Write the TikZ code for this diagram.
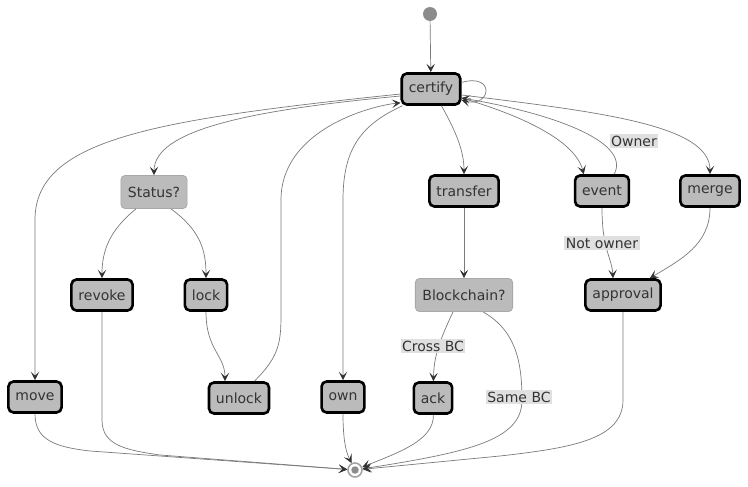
\documentclass[tikz,border=0pt]{standalone}
\usepackage{fontspec}
\setmainfont{DejaVu Sans}
\usetikzlibrary{arrows.meta,positioning}
\definecolor{boxgray}{HTML}{BBBBBB}
\definecolor{choiceline}{HTML}{A8A8A8}
\definecolor{linegray}{HTML}{7A7A7A}
\definecolor{tipgray}{HTML}{333333}
\definecolor{inkgray}{HTML}{333333}
\definecolor{condgray}{HTML}{E0E0E0}
\definecolor{dotgray}{HTML}{8C8C8C}
\begin{document}
\begin{tikzpicture}
  [x=1pt, y=-1pt,
    >={Stealth[length=8.5pt,width=8.5pt,inset=4pt,color=tipgray]},
    font=\fontsize{14}{16}\selectfont, text=inkgray,
    state/.style={
      rectangle, rounded corners=5pt, draw=black, line width=2.6pt,
      fill=boxgray, minimum height=31pt, inner xsep=7pt
    },
    choice/.style={
      rectangle, rounded corners=4pt, draw=choiceline, line width=0.8pt,
      fill=boxgray, minimum height=33pt, inner xsep=7pt
    },
    trans/.style={->, draw=linegray, line width=0.7pt},
    cond/.style={fill=condgray, inner sep=1.5pt},
  ]
  \useasboundingbox (0,0) rectangle (748,487);

  \node[circle, fill=dotgray, minimum size=14pt, inner sep=0pt] (start) at (430,14) {};
  \node[state] (certify) at (431,89) {certify};

  \node[choice] (status) at (154,192) {Status?};
  \node[state] (transfer) at (464,191) {transfer};
  \node[state] (event) at (602,191) {event};
  \node[state] (merge) at (710,191) {merge};

  \node[state] (revoke) at (102,295) {revoke};
  \node[state] (lock) at (206,295) {lock};
  \node[choice] (blockchain) at (464,295) {Blockchain?};
  \node[state] (approval) at (623,295) {approval};

  \node[state] (move) at (35,397) {move};
  \node[state] (unlock) at (239,398) {unlock};
  \node[state] (own) at (343,397) {own};
  \node[state] (ack) at (433,398) {ack};

  \node[circle, draw=dotgray!80, line width=1.6pt, fill=white, minimum size=14pt, inner sep=0pt] (stop) at (355,470) {};
  \node[circle, fill=dotgray, minimum size=7.5pt, inner sep=0pt] (stopcore) at (stop) {};

  % Into and around certify
  \draw[trans] (start) -- (certify);
  \draw[trans] (certify.12) .. controls +(34,-10) and +(30,8) .. (certify.-20);

  % Left branches
  \draw[trans] ([yshift=-5pt]certify.west) .. controls (150,120) and (35,140) .. (35,220) -- (move);
  \draw[trans] ([yshift=-7pt]certify.west) .. controls (250,110) and (154,130) .. (status);
  \draw[trans] ([xshift=-18pt]status.south) .. controls (110,230) and (102,250) .. (revoke);
  \draw[trans] ([xshift=17pt]status.south) .. controls (200,230) and (206,250) .. (lock);
  \draw[trans] (lock) .. controls (206,350) and (225,355) .. ([xshift=-14pt]unlock.north);
  \draw[trans] ([xshift=-16pt]unlock.north east) .. controls (281,355) and (281,340) .. (281,310)
    -- (281,200) .. controls (281,130) and (370,106) .. ([yshift=3pt]certify.south west);
  \draw[trans] ([xshift=2pt]certify.south west) .. controls (360,125) and (343,150) .. (343,200) -- (own);

  % Right branches
  \draw[trans] ([xshift=-20pt]certify.south east) .. controls (455,130) and (464,150) .. (transfer);
  \draw[trans] (transfer) -- (blockchain);
  \draw[trans] ([yshift=-9pt]certify.east) .. controls (520,115) and (575,140) .. ([xshift=10pt]event.north west);
  \draw[trans] ([xshift=-16pt]event.north east) .. controls (632,140) and (545,112) .. ([yshift=-9pt]certify.east);
  \draw[trans] ([yshift=-6pt]certify.east) .. controls (600,112) and (710,125) .. (merge);
  \draw[trans] (event) .. controls (602,250) and (612,258) .. ([xshift=-10pt]approval.north);
  \draw[trans] (merge) .. controls (710,245) and (680,260) .. ([xshift=-12pt]approval.north east);
  \draw[trans] ([xshift=38pt]blockchain.south west) .. controls (440,340) and (434,355) .. (ack);

  % Into the final state
  \draw[trans] (move) .. controls (35,440) and (55,447) .. (90,451) -- (stop);
  \draw[trans] (revoke) -- (102,420) .. controls (102,445) and (125,450) .. (160,455) -- (stop);
  \draw[trans] (own) .. controls (343,440) and (346,452) .. (stop);
  \draw[trans] (ack) .. controls (434,440) and (400,452) .. (stop);
  \draw[trans] ([xshift=-30pt]blockchain.south east) .. controls (515,330) and (522,360) .. (522,400)
    .. controls (522,440) and (470,452) .. (stop);
  \draw[trans] (approval) -- (623,400) .. controls (623,440) and (570,448) .. (500,456) -- (stop);

  % Conditions
  \node[cond] (owner) at (634,141) {Owner};
  \node[cond] (notowner) at (602,243) {Not owner};
  \node[cond] (crossbc) at (433,346) {Cross BC};
  \node[cond] (samebc) at (519,397) {Same BC};
\end{tikzpicture}
\end{document}
